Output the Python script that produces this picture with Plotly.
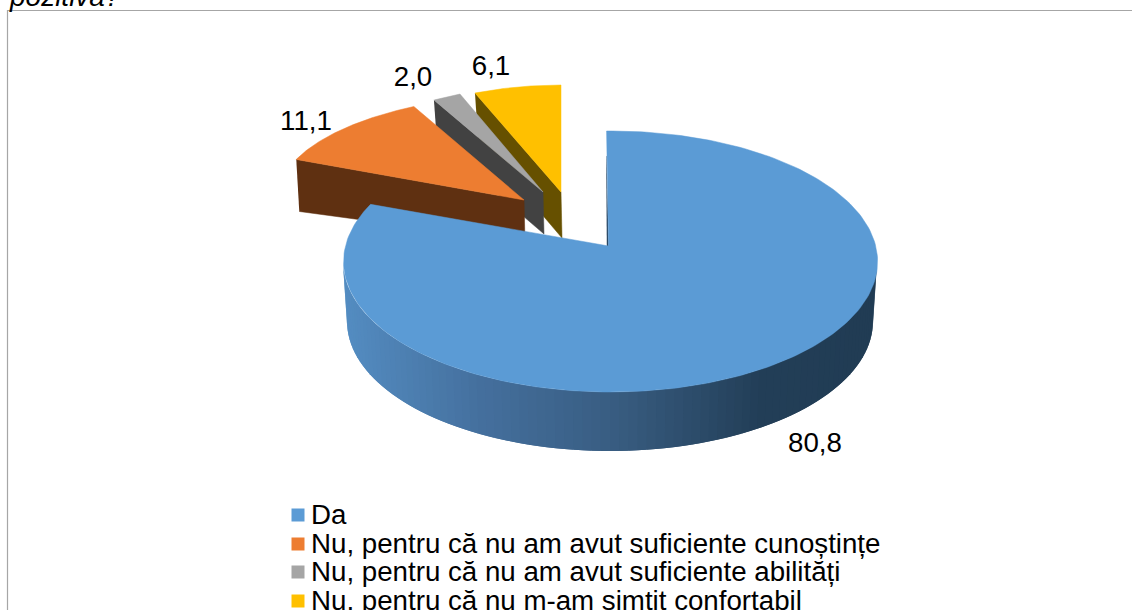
import numpy as np
import plotly.graph_objects as go

# ---- data ----
categories = ["Da", "Nu, pentru că nu am avut suficiente cunoștințe",
              "Nu, pentru că nu am avut suficiente abilități",
              "Nu, pentru că nu m-am simțit confortabil"]
values = [80.8, 11.1, 2.0, 6.1]
title_tail = "pozitivă?"

# ---- styles ----
top_colors = ["#5b9bd5", "#ed7d31", "#a5a5a5", "#ffc000"]
wall_colors = ["#223e57", "#5f3011", "#424242", "#665000"]
FONT = "Liberation Sans"
W, H = 1132, 610

# ---- projection constants for the faked 3D pie ----
# apex, arc centre, radii, depth of wall, angular warp and rotation
GEOM = [
    dict(ax=608, ay=246, cx=610, cy=261.5, rx=267, ry=130.5, d=60, warp=296.86 / 290.9, rot=-0.86),
    dict(ax=524, ay=200, cx=542, cy=196, rx=263, ry=102.5, d=52, warp=1, rot=0),
    dict(ax=543, ay=192, cx=546, cy=197, rx=230, ry=111, d=42, warp=1, rot=0),
    dict(ax=561, ay=192, cx=561, cy=196, rx=230, ry=111, d=46, warp=1, rot=0),
]
LABEL_XY = [(815, 445), (306, 123), (413, 79), (491, 68)]
LEG_Y = [517, 546, 574, 603]

total = sum(values)
fracs = np.cumsum([0] + values) / total * 360.0
fig = go.Figure()


def poly(xs, ys, color, line=0.0):
    fig.add_trace(go.Scatter(x=list(xs), y=list(ys), mode="lines", fill="toself",
                             fillcolor=color, line=dict(color=color, width=line),
                             hoverinfo="skip", showlegend=False))


def arc(g, a0, a1, n=80):
    t = np.radians(np.linspace(a0, a1, n) * g["warp"] + g["rot"])
    return g["cx"] + g["rx"] * np.sin(t), g["cy"] - g["ry"] * np.cos(t)


def wedge(i):
    g = GEOM[i]
    a0, a1 = fracs[i], fracs[i + 1]
    x, y = arc(g, a0, a1)
    if i > 0:
        # wall seen below the leading radial edge
        poly([x[0], g["ax"], g["ax"] + 1, x[0] + 3],
             [y[0], g["ay"], g["ay"] + g["d"] - 10 if i == 1 else g["ay"] + g["d"], y[0] + g["d"]],
             wall_colors[i], 0.5)
    poly(np.r_[g["ax"], x, g["ax"]], np.r_[g["ay"], y, g["ay"]], top_colors[i], 0.5)


# back wedges, far to near
for i in [3, 2, 1]:
    wedge(i)

# main slice: wall strips with a left-to-right shading, then the top face
g = GEOM[0]
edge = np.linspace(90, 270, 91)
tx = g["cx"] + g["rx"] * np.sin(np.radians(edge))
ty = g["cy"] - g["ry"] * np.cos(np.radians(edge))
bx = g["cx"] + (g["rx"] - 4) * np.sin(np.radians(edge))
by = g["cy"] + g["d"] - (g["ry"] - 1) * np.cos(np.radians(edge))
shade_x = [343, 480, 620, 760, 877]
shade_rgb = np.array([[84, 141, 194], [69, 112, 158], [56, 92, 128], [35, 63, 88], [33, 60, 84]])
# painted right to left, each strip running on under the next so no seams show
for k in range(len(edge) - 1):
    xm = (tx[k] + tx[k + 1]) / 2
    c = [int(np.interp(xm, shade_x, shade_rgb[:, j])) for j in range(3)]
    col = f"rgb({c[0]},{c[1]},{c[2]})"
    e = min(k + 2, len(edge) - 1)
    poly([tx[k], tx[e], bx[e], bx[k], tx[k]],
         [ty[k], ty[e], by[e], by[k], ty[k]], col, 0)

# sliver of the inner wall at the slice start: dark, thin, widening towards the apex
x, y = arc(g, fracs[0], fracs[1], 240)
poly([x[0] + 0.6, g["ax"] + 0.6, g["ax"] - 1.2, x[0] + 0.2],
     [y[0] + 25, g["ay"] + 1, g["ay"] + 1, y[0] + 25], "#2a4763", 0)
poly(np.r_[g["ax"] + 0.6, x + 0.6, g["ax"] + 0.6], np.r_[g["ay"], y, g["ay"]], top_colors[0], 0.5)

# data labels
fig.add_trace(go.Scatter(
    x=[p[0] for p in LABEL_XY], y=[p[1] for p in LABEL_XY], mode="text",
    text=[f"{v:.1f}".replace(".", ",") for v in values], textposition="middle center",
    textfont=dict(family=FONT, size=27.7, color="#000000"), hoverinfo="skip", showlegend=False))

# legend
fig.add_trace(go.Scatter(
    x=[298] * 4, y=[v - 2 for v in LEG_Y], mode="markers",
    marker=dict(symbol="square", size=13, color=top_colors, line=dict(width=0)),
    hoverinfo="skip", showlegend=False))
fig.add_trace(go.Scatter(
    x=[311] * 4, y=LEG_Y, mode="text", text=categories, textposition="middle right",
    textfont=dict(family=FONT, size=27.7, color="#000000"), hoverinfo="skip", showlegend=False))

fig.add_annotation(x=7, y=0, yshift=4, xref="x", yref="y", text=f"<i>{title_tail}</i>", showarrow=False,
                   xanchor="left", yanchor="middle", font=dict(family=FONT, size=28, color="#000000"))

fig.update_layout(
    width=W, height=H, margin=dict(l=0, r=0, t=0, b=0), showlegend=False,
    paper_bgcolor="#ffffff", plot_bgcolor="#ffffff",
    xaxis=dict(range=[0, W], visible=False, fixedrange=True),
    yaxis=dict(range=[H, 0], visible=False, fixedrange=True),
    shapes=[dict(type="rect", xref="x", yref="y", x0=7.5, x1=W + 20, y0=10.5, y1=H + 20,
                 line=dict(color="#a6a6a6", width=1.2), fillcolor="rgba(0,0,0,0)", layer="below")],
)
fig.write_html("out.html", config={"displayModeBar": False},
               post_script="document.body.style.margin='0';document.body.style.overflow='hidden';")
